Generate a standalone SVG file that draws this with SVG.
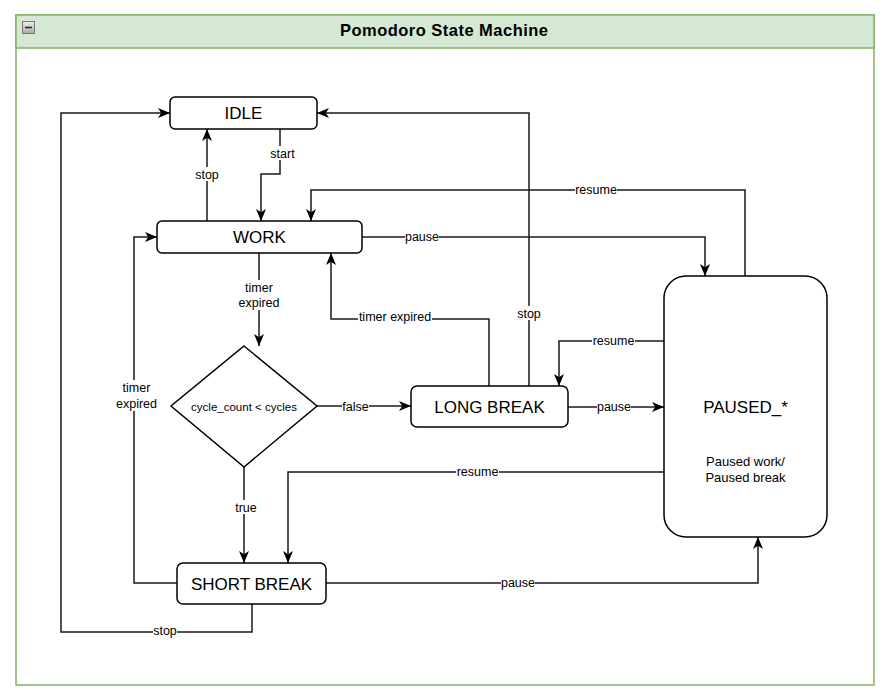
<svg xmlns="http://www.w3.org/2000/svg" width="891" height="690" viewBox="0 0 891 690">
<style>
.node{fill:#fff;stroke:#000;stroke-width:1.5}
.nt{font-family:"Liberation Sans",Arial,sans-serif;font-size:17px;fill:#000;text-anchor:middle}
.st{font-family:"Liberation Sans",Arial,sans-serif;font-size:12.5px;fill:#000;text-anchor:middle}
.edge{fill:none;stroke:#1a1a1a;stroke-width:1.5}
.lb{fill:#fff}
.lt{font-family:"Liberation Sans",Arial,sans-serif;font-size:12.5px;fill:#000;text-anchor:middle}
</style>
<defs>
<marker id="arr" markerWidth="13" markerHeight="11" refX="12" refY="5" orient="auto" markerUnits="userSpaceOnUse">
<path d="M0,0 L12,5 L0,10 L3.2,5 Z" fill="#000"/>
</marker>
<linearGradient id="ig" x1="0" y1="0" x2="0" y2="1">
<stop offset="0" stop-color="#eeeeee"/><stop offset="1" stop-color="#aaaaaa"/>
</linearGradient>
</defs>

<g id="container">
<rect x="16" y="15" width="858" height="670" fill="#fff" stroke="#82b366" stroke-width="1.5"/>
<rect x="16" y="15" width="858" height="33" fill="#d5e8d4" stroke="#82b366" stroke-width="1.5"/>
<rect x="22.5" y="21.5" width="12" height="12" fill="url(#ig)" stroke="#777" stroke-width="1"/>
<line x1="25" y1="27.5" x2="32" y2="27.5" stroke="#222" stroke-width="1.5"/>
<text x="444" y="36" font-family="Liberation Sans,Arial,sans-serif" font-size="16.5" font-weight="bold" text-anchor="middle" textLength="208" lengthAdjust="spacing">Pomodoro State Machine</text>
</g>

<g id="connectors">
<path class="edge" d="M280,129 V174 H261 V221" marker-end="url(#arr)"/>
<path class="edge" d="M207,221 V129" marker-end="url(#arr)"/>
<path class="edge" d="M745,276 V190 H311 V221" marker-end="url(#arr)"/>
<path class="edge" d="M362,237 H705 V276" marker-end="url(#arr)"/>
<path class="edge" d="M259,253 V346" marker-end="url(#arr)"/>
<path class="edge" d="M317,406 H411" marker-end="url(#arr)"/>
<path class="edge" d="M489,386 V319 H331 V253" marker-end="url(#arr)"/>
<path class="edge" d="M529,386 V113 H317" marker-end="url(#arr)"/>
<path class="edge" d="M664,341 H559 V386" marker-end="url(#arr)"/>
<path class="edge" d="M568,407 H664" marker-end="url(#arr)"/>
<path class="edge" d="M244,467 V563" marker-end="url(#arr)"/>
<path class="edge" d="M664,472 H288 V563" marker-end="url(#arr)"/>
<path class="edge" d="M326,583 H758 V537" marker-end="url(#arr)"/>
<path class="edge" d="M177,583 H134 V237 H157" marker-end="url(#arr)"/>
<path class="edge" d="M252,604 V632 H61 V113 H170" marker-end="url(#arr)"/>

<rect class="lb" x="270" y="146" width="25" height="14"/><text class="lt" x="282.5" y="157.5">start</text>
<rect class="lb" x="195" y="167" width="24" height="14"/><text class="lt" x="207" y="178.5">stop</text>
<rect class="lb" x="575" y="183" width="42" height="14"/><text class="lt" x="596" y="194">resume</text>
<rect class="lb" x="405" y="230" width="34" height="14"/><text class="lt" x="422" y="241">pause</text>
<rect class="lb" x="238" y="280" width="42" height="30"/><text class="lt" x="259" y="292">timer</text><text class="lt" x="259" y="307">expired</text>
<rect class="lb" x="342" y="400" width="27" height="14"/><text class="lt" x="355.5" y="411">false</text>
<rect class="lb" x="358" y="310" width="74" height="14"/><text class="lt" x="395" y="321">timer expired</text>
<rect class="lb" x="517" y="306" width="24" height="14"/><text class="lt" x="529" y="318">stop</text>
<rect class="lb" x="592" y="334" width="43" height="14"/><text class="lt" x="613.5" y="345">resume</text>
<rect class="lb" x="597" y="400" width="34" height="14"/><text class="lt" x="614" y="411">pause</text>
<rect class="lb" x="235" y="500" width="22" height="14"/><text class="lt" x="246" y="512">true</text>
<rect class="lb" x="456" y="465" width="43" height="14"/><text class="lt" x="477.5" y="476">resume</text>
<rect class="lb" x="501" y="576" width="34" height="14"/><text class="lt" x="518" y="587">pause</text>
<rect class="lb" x="115" y="380" width="43" height="31"/><text class="lt" x="136.5" y="392">timer</text><text class="lt" x="136.5" y="408">expired</text>
<rect class="lb" x="153" y="624" width="24" height="14"/><text class="lt" x="165" y="635">stop</text>
</g>

<g id="idle">
<rect class="node" x="170" y="97" width="147" height="32" rx="5"/>
<text class="nt" x="243.5" y="119">IDLE</text>
</g>
<g id="work">
<rect class="node" x="157" y="221" width="205" height="32" rx="5"/>
<text class="nt" x="259.5" y="243">WORK</text>
</g>
<g id="decision">
<polygon class="node" points="244,346 317,406 244,467 171,406"/>
<text class="lt" x="244" y="410.5" style="font-size:11.5px">cycle_count &lt; cycles</text>
</g>
<g id="long-break">
<rect class="node" x="411" y="386" width="157" height="41" rx="6"/>
<text class="nt" x="489.5" y="412.5">LONG BREAK</text>
</g>
<g id="short-break">
<rect class="node" x="177" y="563" width="149" height="41" rx="6"/>
<text class="nt" x="251.5" y="589.5">SHORT BREAK</text>
</g>
<g id="paused">
<rect class="node" x="664" y="276" width="163" height="261" rx="22"/>
<text class="nt" x="745.5" y="413">PAUSED_*</text>
<text class="st" x="745.5" y="466" style="font-size:13px">Paused work/</text>
<text class="st" x="745.5" y="482" style="font-size:13px">Paused break</text>
</g>
</svg>
